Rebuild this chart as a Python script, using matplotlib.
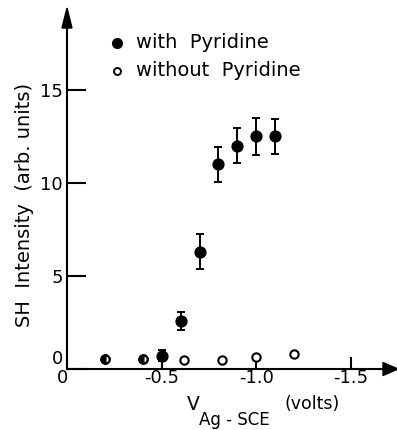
import matplotlib
matplotlib.use('Agg')
import matplotlib.pyplot as plt
import matplotlib.transforms as mtransforms
from matplotlib.patches import Polygon
from matplotlib.lines import Line2D

# Data (voltage in volts vs Ag-SCE, SH intensity in arb. units)
v_with = [-0.5, -0.6, -0.7, -0.8, -0.9, -1.0, -1.1]
i_with = [0.7, 2.55, 6.3, 11.0, 12.0, 12.5, 12.5]
err_with = [0.3, 0.5, 0.95, 0.95, 0.95, 1.0, 0.95]

v_without = [-0.2, -0.4, -0.62, -0.82, -1.0, -1.2]
i_without = [0.5, 0.5, 0.45, 0.45, 0.6, 0.8]
# points where both series overlap (drawn half filled)
v_overlap = [-0.2, -0.4]
i_overlap = [0.5, 0.5]

xticks = [0, -0.5, -1.0, -1.5]
xticklabels = ['0', '-0.5', '-1.0', '-1.5']
yticks = [0, 5, 10, 15]
yticklabels = ['0', '5', '10', '15']

plt.rcParams['font.family'] = ['DejaVu Sans']

W, H = 397, 430
fig = plt.figure(figsize=(W / 100, H / 100), dpi=100)

def fx(px):
    return px / W

def fy(py):
    return 1 - py / H

x0, y0, x1, y1 = 67, 368.5, 385, 27
ax = fig.add_axes([fx(x0), fy(y0), (x1 - x0) / W, (y0 - y1) / H])

ax.set_xlim(0, -1.68)
ax.set_ylim(0, 18.39)

for s in ['top', 'right']:
    ax.spines[s].set_visible(False)
for s in ['left', 'bottom']:
    ax.spines[s].set_linewidth(1.5)
    ax.spines[s].set_color('black')

ax.errorbar(v_with, i_with, yerr=err_with, fmt='o', color='black',
            markersize=7.8, elinewidth=1.4, capsize=3, capthick=1.4,
            zorder=3, clip_on=False)
ax.plot(v_without, i_without, 'o', markerfacecolor='white',
        markeredgecolor='black', markersize=6, markeredgewidth=1.5,
        zorder=3, clip_on=False)
ax.plot(v_overlap, i_overlap, 'o', fillstyle='left', color='black',
        markerfacecoloralt='white', markeredgecolor='black',
        markersize=6, markeredgewidth=1.5, zorder=4, clip_on=False)

ax.set_xticks(xticks)
ax.set_xticklabels(xticklabels)
ax.set_yticks(yticks)
ax.set_yticklabels(yticklabels)
ax.tick_params(axis='x', direction='in', length=9, width=1.5, pad=0.5,
               labelsize=13)
ax.tick_params(axis='y', direction='in', length=14, width=1.5, pad=3,
               labelsize=13)

# nudge the two zero labels like the reference
lbl = ax.yaxis.get_major_ticks()[0].label1
lbl.set_transform(lbl.get_transform() +
                  mtransforms.ScaledTranslation(0, 11 / 100, fig.dpi_scale_trans))
lbl = ax.xaxis.get_major_ticks()[0].label1
lbl.set_transform(lbl.get_transform() +
                  mtransforms.ScaledTranslation(-4 / 100, 0, fig.dpi_scale_trans))

# arrow heads at ends of the axes
fig.patches.append(Polygon([[fx(67), fy(8)], [fx(62), fy(28)], [fx(72), fy(28)]],
                           closed=True, color='black', transform=fig.transFigure))
fig.patches.append(Polygon([[fx(398), fy(369)], [fx(383), fy(362.5)],
                            [fx(383), fy(375.5)]],
                           closed=True, color='black', transform=fig.transFigure))

ax.set_ylabel('SH  Intensity  (arb. units)', fontsize=14)
ax.yaxis.set_label_coords((34 - x0) / (x1 - x0), (y0 - 205) / (y0 - y1))

# x label with subscript
fig.text(fx(187), fy(404), 'V', fontsize=13.5, ha='left', va='center')
fig.text(fx(199), fy(420), 'Ag - SCE', fontsize=12, ha='left', va='center')
fig.text(fx(284), fy(404), '(volts)', fontsize=12.5, ha='left', va='center')

# legend
fig.lines.append(Line2D([fx(117)], [fy(43)], marker='o', markersize=7,
                        color='black', transform=fig.transFigure))
fig.text(fx(136), fy(43), 'with  Pyridine', fontsize=14, ha='left', va='center')
fig.lines.append(Line2D([fx(117)], [fy(71)], marker='o', markersize=5,
                        markerfacecolor='white', markeredgecolor='black',
                        markeredgewidth=1.4, transform=fig.transFigure))
fig.text(fx(136), fy(71), 'without  Pyridine', fontsize=14, ha='left', va='center')

fig.savefig('out.png', dpi=100, facecolor='white')
